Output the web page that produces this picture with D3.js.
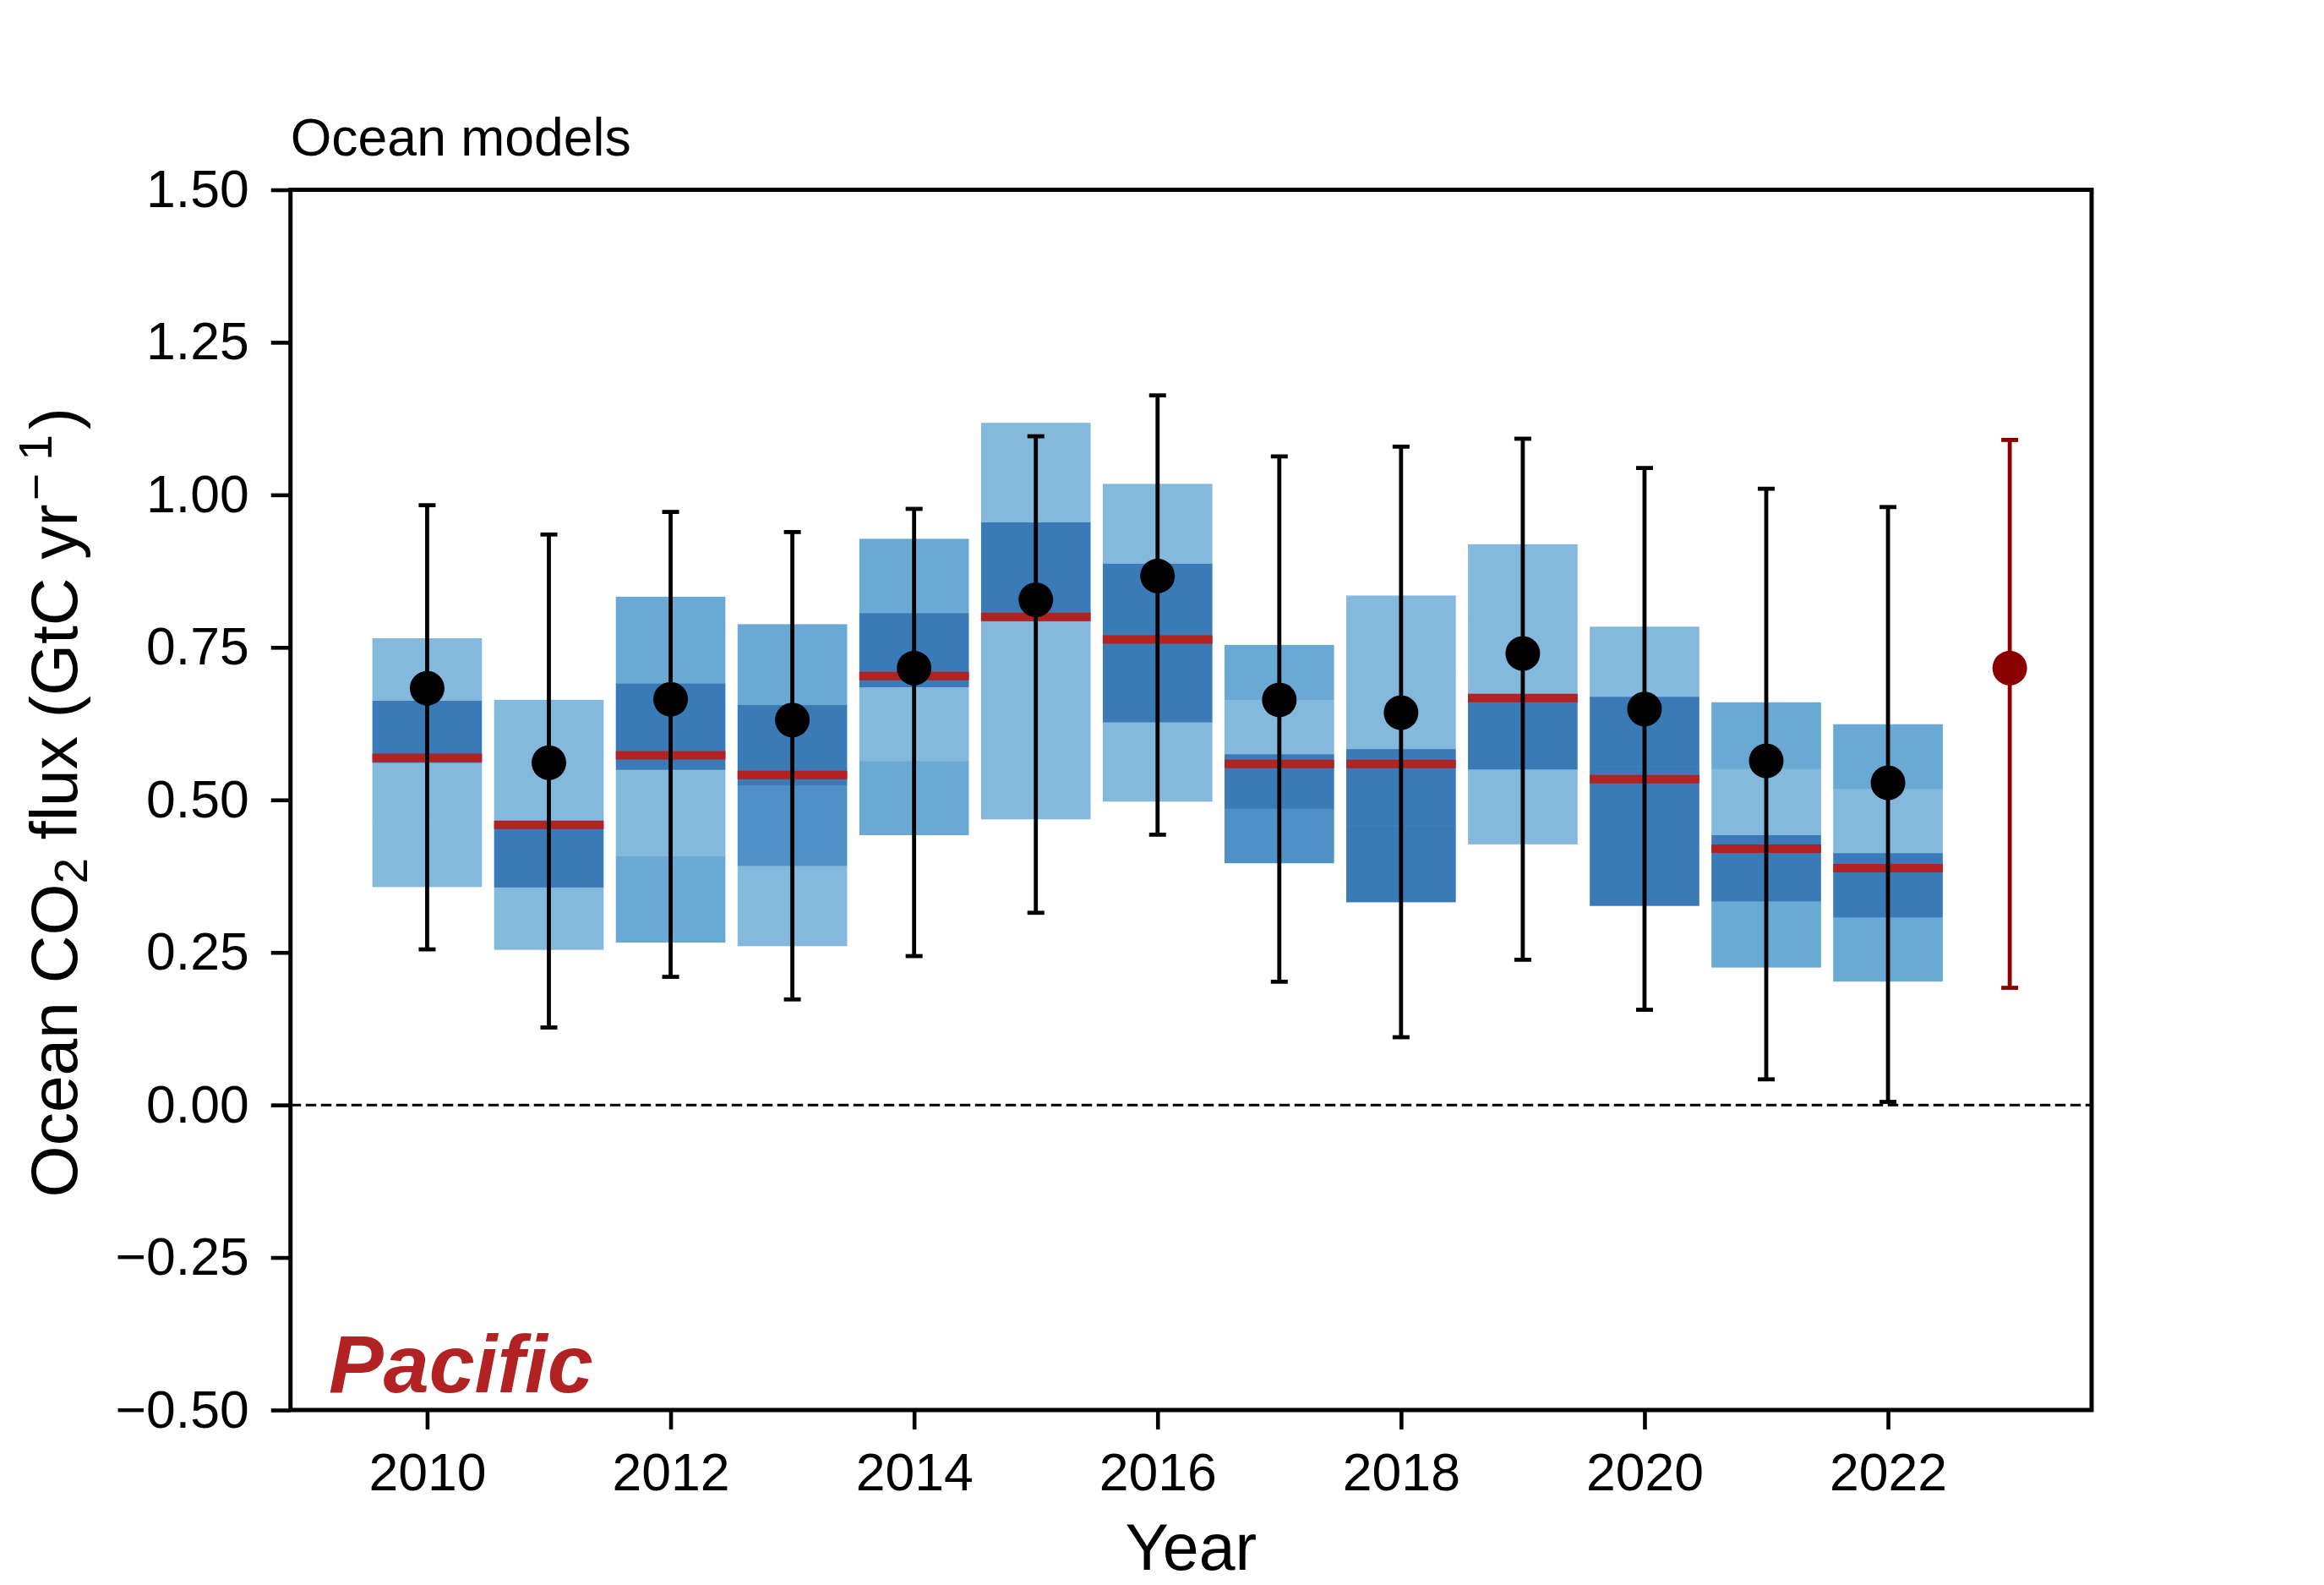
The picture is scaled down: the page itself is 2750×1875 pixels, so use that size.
<!DOCTYPE html>
<html lang="en">
<head>
    <meta charset="UTF-8">
    <title>Ocean models - Pacific</title>
    <script src="https://d3js.org/d3.v7.min.js"></script>
    <style>
        body{
            margin: 0;
            background-color: #ffffff;
        }
        #canvas text{
            font-family: "Liberation Sans", Arial, sans-serif;
            fill: #000000;
        }
        .axis text{
            font-size: 62.5px;
        }
        .axis line{
            stroke: #000000;
            stroke-width: 4.6px;
        }
        .frame{
            fill: none;
            stroke: #000000;
            stroke-width: 5px;
        }
        .zero_line{
            stroke: #000000;
            stroke-width: 3px;
            stroke-dasharray: 12.5 5.5;
        }
        .median{
            stroke: #b22222;
            stroke-width: 10px;
        }
        .err{
            stroke-width: 4.8px;
        }
    </style>
</head>
<body>
<svg id="canvas" width="2750" height="1875"></svg>
<script>
    // model years
    let years = [2010, 2011, 2012, 2013, 2014, 2015, 2016, 2017, 2018, 2019, 2020, 2021, 2022]
    // spread of the ocean models (min / max of the box)
    let modelMin = [0.358, 0.255, 0.267, 0.261, 0.443, 0.469, 0.498, 0.397, 0.333, 0.428, 0.327, 0.226, 0.203]
    let modelMax = [0.765, 0.664, 0.833, 0.788, 0.928, 1.118, 1.018, 0.754, 0.835, 0.919, 0.784, 0.660, 0.624]
    // density level of each quarter of the box, bottom to top (1 = few models, 4 = most)
    let binLevels = [
        [1, 1, 4, 1],
        [1, 4, 1, 1],
        [2, 1, 4, 2],
        [1, 3, 4, 2],
        [2, 1, 4, 2],
        [1, 1, 4, 1],
        [1, 4, 4, 1],
        [3, 4, 1, 2],
        [4, 4, 1, 1],
        [1, 4, 1, 1],
        [4, 4, 4, 1],
        [2, 4, 1, 2],
        [2, 4, 1, 2]
    ]
    let modelMedian = [0.569, 0.459, 0.573, 0.541, 0.703, 0.800, 0.763, 0.559, 0.559, 0.667, 0.534, 0.420, 0.388]
    let modelMean = [0.683, 0.561, 0.665, 0.631, 0.716, 0.828, 0.867, 0.664, 0.643, 0.740, 0.649, 0.564, 0.528]
    let errLow = [0.255, 0.127, 0.210, 0.173, 0.244, 0.315, 0.443, 0.202, 0.111, 0.238, 0.156, 0.042, 0.005]
    let errHigh = [0.983, 0.935, 0.972, 0.939, 0.977, 1.096, 1.163, 1.063, 1.079, 1.092, 1.044, 1.010, 0.980]
    // last year shown on its own
    let lastYear = [2023]
    let lastMean = [0.716]
    let lastLow = [0.192]
    let lastHigh = [1.090]

    let yTicks = [-0.5, -0.25, 0, 0.25, 0.5, 0.75, 1.0, 1.25, 1.5]
    let xTicks = [2010, 2012, 2014, 2016, 2018, 2020, 2022]
    let shadeLevels = [1, 2, 3, 4]

    let box = {left: 343.75, right: 2475, top: 224.5, bottom: 1668}
    let barWidth = 0.9
    let svg = d3.select('#canvas')

    // matplotlib style 5% margin around the drawn range
    let xLo = years[0] - barWidth / 2
    let xHi = lastYear[0]
    let pad = (xHi - xLo) * 0.05
    let xScale = d3.scaleLinear().domain([xLo - pad, xHi + pad]).range([box.left, box.right])
    let yScale = d3.scaleLinear().domain([-0.5, 1.5]).range([box.bottom, box.top])
    let shade = d3.scaleOrdinal().domain(shadeLevels)
        .range(['#84b8dc', '#6aa9d4', '#4f91c6', '#3a7ab7'])

    // boxes split in four equal bins
    let bins = []
    years.forEach(function (yr, i) {
        let step = (modelMax[i] - modelMin[i]) / 4
        binLevels[i].forEach(function (lev, k) {
            bins.push({year: yr, lo: modelMin[i] + k * step, hi: modelMin[i] + (k + 1) * step, level: lev})
        })
    })
    let boxes = svg.append('g')
    boxes.selectAll('rect')
        .data(bins)
        .enter()
        .append('rect')
        .attr('x', d => xScale(d.year - barWidth / 2))
        .attr('width', d => xScale(d.year + barWidth / 2) - xScale(d.year - barWidth / 2))
        .attr('y', d => yScale(d.hi))
        .attr('height', d => yScale(d.lo) - yScale(d.hi) + 0.6)
        .style('fill', d => shade(d.level))

    // zero line
    svg.append('line')
        .attr('class', 'zero_line')
        .attr('x1', box.left).attr('x2', box.right)
        .attr('y1', yScale(0)).attr('y2', yScale(0))

    // medians
    svg.append('g').selectAll('line')
        .data(years)
        .enter()
        .append('line')
        .attr('class', 'median')
        .attr('x1', d => xScale(d - barWidth / 2))
        .attr('x2', d => xScale(d + barWidth / 2))
        .attr('y1', (d, i) => yScale(modelMedian[i]))
        .attr('y2', (d, i) => yScale(modelMedian[i]))

    function errorBars(xs, means, lows, highs, color) {
        let g = svg.append('g').attr('class', 'err').style('stroke', color)
        let cap = 10
        xs.forEach(function (x, i) {
            let cx = xScale(x)
            g.append('line').attr('x1', cx).attr('x2', cx)
                .attr('y1', yScale(lows[i])).attr('y2', yScale(highs[i]))
            g.append('line').attr('x1', cx - cap).attr('x2', cx + cap)
                .attr('y1', yScale(lows[i])).attr('y2', yScale(lows[i]))
            g.append('line').attr('x1', cx - cap).attr('x2', cx + cap)
                .attr('y1', yScale(highs[i])).attr('y2', yScale(highs[i]))
        })
        svg.append('g').selectAll('circle')
            .data(xs)
            .enter()
            .append('circle')
            .attr('cx', d => xScale(d))
            .attr('cy', (d, i) => yScale(means[i]))
            .attr('r', 20.5)
            .style('fill', color)
    }
    errorBars(years, modelMean, errLow, errHigh, '#000000')
    errorBars(lastYear, lastMean, lastLow, lastHigh, '#8b0000')

    // axes
    let yAxis = d3.axisLeft(yScale).tickValues(yTicks).tickSize(23).tickPadding(26)
        .tickFormat(d => d3.format('.2f')(d).replace('-', '\u2212'))
    svg.append('g').attr('class', 'axis')
        .attr('transform', `translate(${box.left},0)`)
        .call(yAxis)
    let xAxis = d3.axisBottom(xScale).tickValues(xTicks).tickSize(23).tickPadding(27.5)
        .tickFormat(d3.format('d'))
    svg.append('g').attr('class', 'axis')
        .attr('transform', `translate(0,${box.bottom})`)
        .call(xAxis)
    svg.selectAll('.axis .domain').remove()
    svg.selectAll('.axis text').attr('fill', '#000000')

    svg.append('rect')
        .attr('class', 'frame')
        .attr('x', box.left).attr('y', box.top)
        .attr('width', box.right - box.left).attr('height', box.bottom - box.top)

    // labels
    svg.append('text')
        .attr('x', box.left).attr('y', 184)
        .style('font-size', '62.5px')
        .text('Ocean models')
    svg.append('text')
        .attr('x', (box.left + box.right) / 2).attr('y', 1857)
        .attr('text-anchor', 'middle')
        .style('font-size', '77px')
        .text('Year')
    let yl = svg.append('text')
        .attr('transform', `translate(91,${(box.top + box.bottom) / 2 + 3}) rotate(-90)`)
        .attr('text-anchor', 'middle')
        .style('font-size', '78.5px')
    yl.append('tspan').text('Ocean CO')
    yl.append('tspan').attr('dy', 12).style('font-size', '55px').text('2')
    yl.append('tspan').attr('dy', -12).text(' flux (GtC yr')
    yl.append('tspan').attr('dy', -30).attr('dx', 4).style('font-size', '55px').text('\u2212 1')
    yl.append('tspan').attr('dy', 30).attr('dx', 6).text(')')

    svg.append('text')
        .attr('x', 389).attr('y', 1647)
        .style('font-size', '97px')
        .style('font-weight', 'bold')
        .style('font-style', 'italic')
        .style('fill', '#b22222')
        .text('Pacific')
</script>
</body>
</html>
